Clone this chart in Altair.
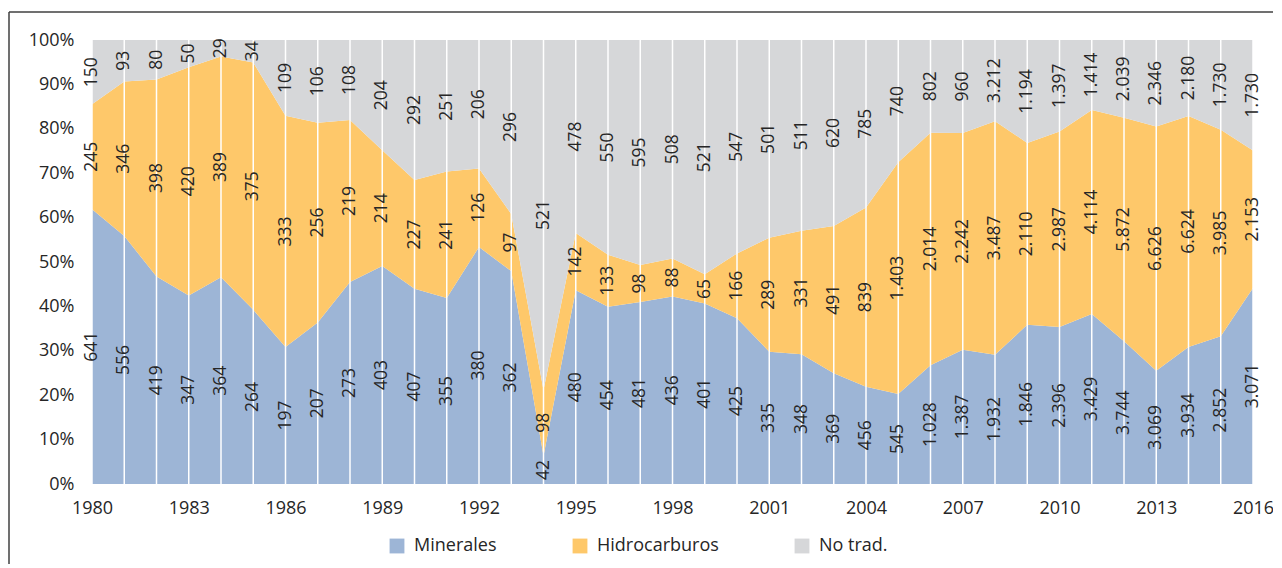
import altair as alt
import pandas as pd

years = list(range(1980, 2017))
minerales = [641, 556, 419, 347, 364, 264, 197, 207, 273, 403, 407, 355, 380, 362, 42, 480,
             454, 481, 436, 401, 425, 335, 348, 369, 456, 545, 1028, 1387, 1932, 1846, 2396,
             3429, 3744, 3069, 3934, 2852, 3071]
hidrocarburos = [245, 346, 398, 420, 389, 375, 333, 256, 219, 214, 227, 241, 126, 97, 98, 142,
                 133, 98, 88, 65, 166, 289, 331, 491, 839, 1403, 2014, 2242, 3487, 2110, 2987,
                 4114, 5872, 6626, 6624, 3985, 2153]
# plotted share of "No trad." (2008 drawn at ~1212 as in the picture)
no_trad = [150, 93, 80, 50, 29, 34, 109, 106, 108, 204, 292, 251, 206, 296, 521, 478, 550,
           595, 508, 521, 547, 501, 511, 620, 785, 740, 802, 960, 1212, 1194, 1397, 1414,
           2039, 2346, 2180, 1730, 1730]
# printed labels of "No trad." (the source prints 3.212 for 2008)
no_trad_labels = [150, 93, 80, 50, 29, 34, 109, 106, 108, 204, 292, 251, 206, 296, 521, 478,
                  550, 595, 508, 521, 547, 501, 511, 620, 785, 740, 802, 960, 3212, 1194, 1397,
                  1414, 2039, 2346, 2180, 1730, 1730]

series = ["Minerales", "Hidrocarburos", "No trad."]
colors = ["#9DB5D6", "#FEC86A", "#D6D7D9"]


def fmt(v):
    return f"{v:,}".replace(",", ".")


rows = []
for i, y in enumerate(years):
    for k, (name, vals, labs) in enumerate([
        ("Minerales", minerales, minerales),
        ("Hidrocarburos", hidrocarburos, hidrocarburos),
        ("No trad.", no_trad, no_trad_labels),
    ]):
        rows.append({"year": y, "serie": name, "order": k, "value": vals[i], "label": fmt(labs[i])})
df = pd.DataFrame(rows)

FONT = "Open Sans"
TXT = "#262626"

base = alt.Chart(df).transform_stack(
    stack="value",
    groupby=["year"],
    as_=["y0", "y1"],
    offset="normalize",
    sort=[alt.SortField("order", order="ascending")],
).transform_calculate(mid="(datum.y0 + datum.y1) / 2")

xscale = alt.Scale(domain=[1980, 2016], nice=False, zero=False)
yscale = alt.Scale(domain=[0, 1], nice=False)

area = base.mark_area(interpolate="linear", opacity=1).encode(
    x=alt.X("year:Q", scale=xscale, title=None,
            axis=alt.Axis(values=list(range(1980, 2017, 3)), format="d", grid=False,
                          ticks=False, domain=False, labelPadding=15, labelFontSize=18,
                          labelFont=FONT, labelColor=TXT, labelFlush=False,
                          labelOverlap=False)),
    y=alt.Y("y1:Q", scale=yscale, title=None,
            axis=alt.Axis(values=[i / 10 for i in range(11)], format=".0%", grid=False,
                          ticks=False, domain=False, labelPadding=18, labelFontSize=18,
                          labelFont=FONT, labelColor=TXT, labelFlush=False)),
    y2="y0:Q",
    color=alt.Color("serie:N", scale=alt.Scale(domain=series, range=colors),
                    sort=series,
                    legend=alt.Legend(title=None, orient="none", direction="horizontal",
                                      legendX=296, legendY=497,
                                      symbolType="square", symbolSize=220,
                                      symbolStrokeWidth=0, labelFontSize=18, labelFont=FONT,
                                      labelColor=TXT, columnPadding=74, labelOffset=8,
                                      labelLimit=220)),
    order=alt.Order("order:Q"),
)

rules = alt.Chart(pd.DataFrame({"year": years})).mark_rule(color="white", strokeWidth=1.5).encode(
    x=alt.X("year:Q", scale=xscale)
)

text = base.mark_text(angle=270, align="center", baseline="middle", font=FONT, fontSize=17.5,
                      color=TXT).encode(
    x=alt.X("year:Q", scale=xscale),
    y=alt.Y("mid:Q", scale=yscale),
    text="label:N",
)

# outer chart frame (decoration)
frame_v = alt.Chart(pd.DataFrame({"k": [0]})).mark_rule(color="#404040", strokeWidth=1.5).encode(
    x=alt.value(-83), y=alt.value(-28), y2=alt.value(600)
)
frame_h = alt.Chart(pd.DataFrame({"k": [0]})).mark_rule(color="#404040", strokeWidth=1.5).encode(
    y=alt.value(-28), x=alt.value(-83), x2=alt.value(1300)
)

chart = alt.layer(area, rules, text, frame_v, frame_h).properties(
    width=1161, height=444,
    autosize=alt.AutoSizeParams(type="none"),
    padding={"left": 84, "top": 32, "right": 20, "bottom": 80},
).configure_view(stroke=None)

chart.save("out.html", embed_options={"renderer": "svg", "actions": False})
